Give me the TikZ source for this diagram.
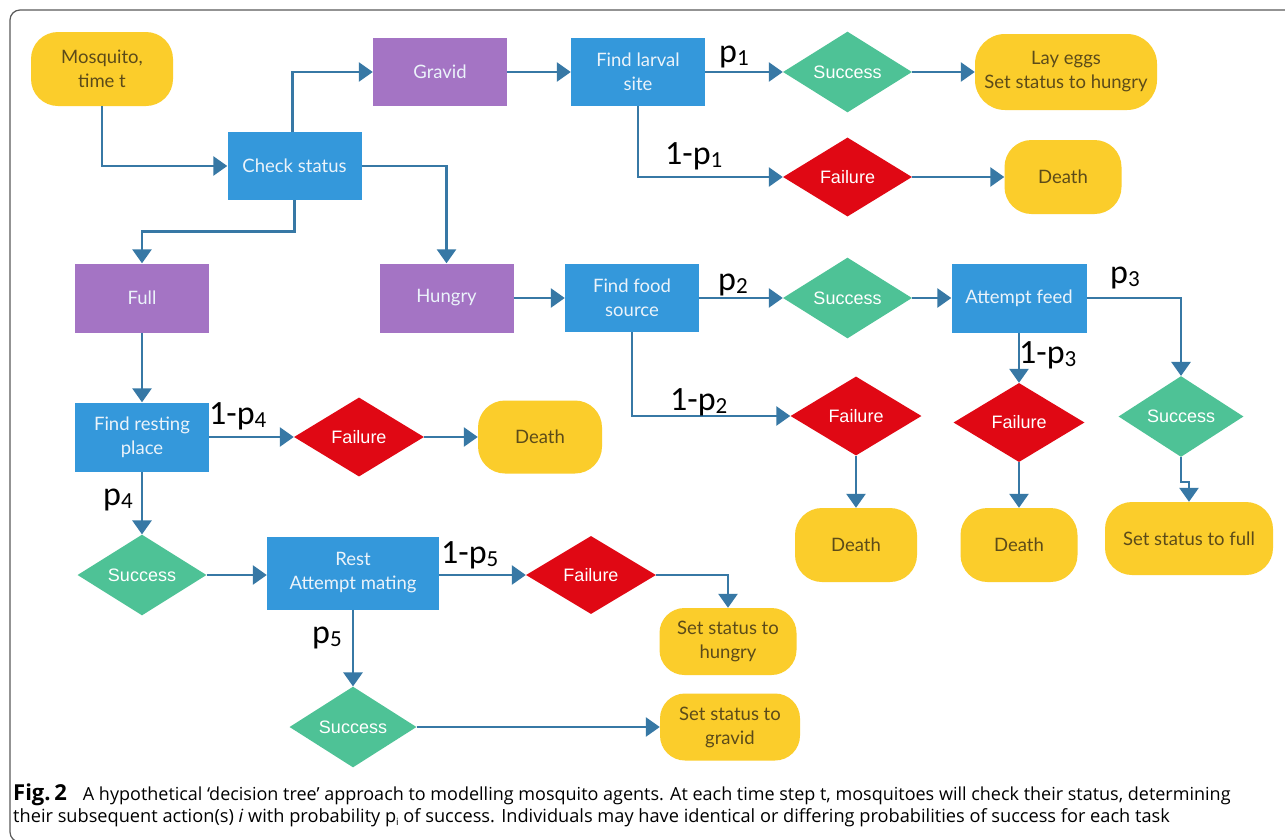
\documentclass[tikz,border=0pt]{standalone}
\usepackage{fontspec}
\usepackage{graphicx}
\setmainfont{Open Sans}
\newfontfamily\lato{Lato}
\newfontfamily\lib{Liberation Sans}
\newfontfamily\carl{Carlito}
\usetikzlibrary{shapes.geometric,arrows.meta}
\definecolor{boxblue}{RGB}{52,152,219}
\definecolor{purp}{RGB}{164,116,196}
\definecolor{yel}{RGB}{251,205,43}
\definecolor{grn}{RGB}{78,194,150}
\definecolor{redd}{RGB}{224,8,20}
\definecolor{lc}{RGB}{55,120,165}
\definecolor{ytxt}{RGB}{92,75,25}
\definecolor{btxt}{RGB}{235,243,250}
\definecolor{framec}{RGB}{90,90,90}
\newcommand\pp[1]{p\raisebox{-3pt}{\fontsize{23}{23}\selectfont #1}}
\tikzset{
  box/.style={rectangle, fill=boxblue, text=btxt, minimum width=134pt, minimum height=68pt,
    inner sep=0pt, align=center, font=\lato\fontsize{18.5}{24}\selectfont},
  pbox/.style={box, fill=purp},
  ybox/.style={rectangle, rounded corners=27pt, fill=yel, text=ytxt, minimum width=117pt,
    minimum height=74pt, inner sep=0pt, align=center, font=\lato\fontsize{18.5}{24}\selectfont},
  sdia/.style={diamond, fill=grn, text=white, minimum width=129pt, minimum height=79pt,
    inner sep=0pt, font=\lib\fontsize{18}{20}\selectfont},
  fdia/.style={sdia, fill=redd},
  conn/.style={draw=lc, line width=2.7pt, -{Triangle[length=14pt,width=19pt]}},
  lab/.style={font=\carl\fontsize{34}{34}\selectfont, inner sep=0pt, anchor=base west, text=black},
  captxt/.style={font=\fontsize{18.2}{22}\selectfont, inner sep=0pt, anchor=base west, text=black}
}
\begin{document}
\begin{tikzpicture}[x=1pt,y=-1pt]
\useasboundingbox (0,0) rectangle (1285,839);
\fill[white] (0,0) rectangle (1285,839);
\draw[framec, line width=1.2pt, rounded corners=10pt] (10,10) rectangle (1300,842);

% row 1
\node[ybox, minimum width=142pt] (mos) at (102,69) {Mosquito,\\time t};
\node[box] (chk) at (294.5,166) {Check status};
\node[pbox] (grav) at (440,72) {Gravid};
\node[box] (larv) at (638,72) {Find larval\\site};
\node[sdia] (s1) at (847.5,72) {Success};
\node[ybox, minimum width=182pt, minimum height=76pt, rounded corners=30pt] (lay) at (1066,72) {Lay eggs\\Set status to hungry};
\node[fdia] (f1) at (847.5,177) {Failure};
\node[ybox] (d1) at (1063,177) {Death};

% row 2
\node[pbox, minimum height=69pt] (full) at (142,298) {Full};
\node[pbox, minimum height=69pt] (hung) at (446.5,298) {Hungry};
\node[box] (food) at (632,298) {Find food\\source};
\node[sdia] (s2) at (847.5,298) {Success};
\node[box, minimum width=135pt, minimum height=69pt] (feed) at (1019,298) {Attempt feed};
\node[fdia, minimum width=131pt] (f2) at (856,416) {Failure};
\node[fdia, minimum width=131pt] (f3) at (1019,422.5) {Failure};
\node[sdia, minimum width=125pt, minimum height=77pt] (s3) at (1181,416.5) {Success};
\node[ybox, minimum width=122pt] (d2) at (856,545) {Death};
\node[ybox] (d3) at (1019,545) {Death};
\node[ybox, minimum width=168pt, minimum height=73pt] (sfull) at (1189,538.5) {Set status to full};

% left branch
\node[box, minimum height=69pt] (rest) at (142,437) {Find resting\\place};
\node[fdia, minimum width=130pt] (f4) at (359,437) {Failure};
\node[ybox, minimum width=124pt, minimum height=73pt] (d4) at (540,437) {Death};
\node[sdia, minimum height=78pt] (s4) at (142,575) {Success};
\node[box, minimum width=172pt, minimum height=73pt] (mate) at (353,573) {Rest\\Attempt mating};
\node[fdia, minimum width=130pt, minimum height=78pt] (f5) at (591,575) {Failure};
\node[ybox, minimum width=137pt, minimum height=67pt, rounded corners=25pt] (shung) at (728,641.5) {Set status to\\hungry};
\node[sdia, minimum width=127pt] (s5) at (353,727) {Success};
\node[ybox, minimum width=140pt, minimum height=67pt, rounded corners=25pt] (sgrav) at (730,727) {Set status to\\gravid};

% connectors
\draw[conn] (mos.south) |- (chk.west);
\draw[conn] ([xshift=-2pt]chk.north) |- (grav.west);
\draw[conn] (chk.east) -| (hung.north);
\draw[conn] (chk.south) -- ++(0,31) -| (full.north);
\draw[conn] (grav.east) -- (larv.west);
\draw[conn] (larv.east) -- (s1.west);
\draw[conn] (s1.east) -- (lay.west);
\draw[conn] (larv.south) |- (f1.west);
\draw[conn] (f1.east) -- (d1.west);
\draw[conn] (hung.east) -- (food.west);
\draw[conn] (food.east) -- (s2.west);
\draw[conn] (s2.east) -- (feed.west);
\draw[conn] (feed.east) -| (s3.north);
\draw[conn] (feed.south) -- (f3.north);
\draw[conn] (food.south) |- (f2.west);
\draw[conn] (f2.south) -- (d2.north);
\draw[conn] (f3.south) -- (d3.north);
\draw[conn] (s3.south) -- ++(0,25) -| (sfull.north);
\draw[conn] (full.south) -- (rest.north);
\draw[conn] (rest.east) -- (f4.west);
\draw[conn] (f4.east) -- (d4.west);
\draw[conn] (rest.south) -- (s4.north);
\draw[conn] (s4.east) -- (s4.east -| mate.west);
\draw[conn] (mate.east |- f5.west) -- (f5.west);
\draw[conn] (f5.east) -| (shung.north);
\draw[conn] (mate.south) -- (s5.north);
\draw[conn] (s5.east) -- (sgrav.west);

% labels
\node[lab] (l1) at (719,62) {\pp{1}};
\node[lab] (l1b) at (665,164) {1-\pp{1}};
\node[lab] (l2) at (718,290) {\pp{2}};
\node[lab] (l2b) at (670,410) {1-\pp{2}};
\node[lab] (l3) at (1110,283) {\pp{3}};
\node[lab] (l3b) at (1019,363) {1-\pp{3}};
\node[lab] (l4b) at (209,424) {1-\pp{4}};
\node[lab] (l4) at (103,505) {\pp{4}};
\node[lab] (l5b) at (441,563) {1-\pp{5}};
\node[lab] (l5) at (312,643) {\pp{5}};

% caption
\node[captxt] (c1) at (13,800) {{\fontsize{22}{22}\selectfont\textbf{Fig.\,2}}\hspace{16pt}{\fontsize{18}{22}\selectfont A hypothetical ‘decision tree’ approach to modelling mosquito agents. At each time step t, mosquitoes will check their status, determining}};
\node[captxt] (c2) at (13,822) {their subsequent action(s) \textit{i} with probability p\raisebox{-3pt}{\fontsize{10}{10}\selectfont i} of success. Individuals may have identical or differing probabilities of success for each task};
\end{tikzpicture}
\end{document}
